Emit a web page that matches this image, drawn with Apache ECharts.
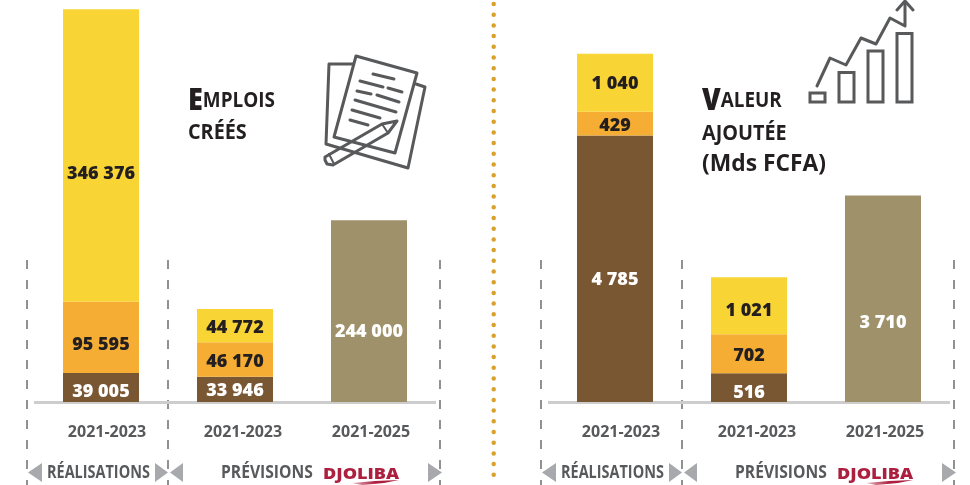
<!DOCTYPE html>
<html><head><meta charset="utf-8">
<style>html,body{margin:0;padding:0;background:#fff}#c{width:970px;height:485px}</style>
<script src="https://cdn.jsdelivr.net/npm/echarts@6/dist/echarts.min.js"></script>
</head><body><div id="c"></div>
<script>
const periods = ['2021-2023', '2021-2023', '2021-2025'];

// Emplois créés: printed values
const jobsBrown = [39005, 33946, null];
const jobsOrange = [95595, 46170, null];
const jobsYellow = [346376, 44772, null];
const jobsKhaki = [null, null, 244000];
// The reference draws the 346 376 segment taller than its value; height
const jobsYellowDrawn = [393000, 44772, null];

// Valeur ajoutée (Mds FCFA): printed values
const valueBrown = [4785, 516, null];
const valueOrange = [429, 702, null];
const valueYellow = [1040, 1021, null];
const valueKhaki = [null, null, 3710];

const C = {brown:'#7a5733', orange:'#f5ae33', yellow:'#f8d535', khaki:'#9f916a', dark:'#231f20', grey:'#58595b', tri:'#a7a9ac', red:'#ad1f3f'};
const FONT = '"Open Sans", sans-serif';
const fmt = v => String(v).replace(/\B(?=(\d{3})+$)/g, ' ');

function seg(name, color, drawn, printed, textColor, nudges, g){
  return {
    type:'bar', name, stack:'s'+g, xAxisIndex:g, yAxisIndex:g, barWidth:76,
    itemStyle:{color}, z:3,
    data: drawn.map((v,i)=>({value:v, label:{offset:[0,2+((nudges&&nudges[i])||0)]}})),
    label:{show:true, position:'inside', color:textColor, fontFamily:FONT, fontWeight:800, fontSize:18,
      formatter:p=>printed[p.dataIndex]==null?'':fmt(printed[p.dataIndex])}
  };
}

function line(pts, w, color){
  return {type:'polyline', shape:{points:pts}, style:{fill:null, stroke:color||C.grey, lineWidth:w||3, lineJoin:'round', lineCap:'round'}};
}

function panelDecor(dx){
  const out = [];
  [27,168,440].forEach(x=>out.push({type:'line', shape:{x1:x+dx,y1:260,x2:x+dx,y2:485},
    style:{stroke:'#6d6e71', lineWidth:1.5, lineDash:[9,11]}}));
  [[28,42,-1],[155,168,1],[170,183,-1],[428,442,1]].forEach(([a,b,d])=>{
    const tip = d<0?a:b, base = d<0?b:a;
    out.push({type:'polygon', shape:{points:[[tip+dx,472.5],[base+dx,463],[base+dx,482]]}, style:{fill:C.tri}});
  });
  const bottom = (t,x,w)=>({type:'text', x:x+dx, y:473.5, scaleX:w,
    style:{text:t, fill:C.grey, font:'700 17px '+FONT, textVerticalAlign:'middle', textAlign:'left'}});
  out.push(bottom('RÉALISATIONS',47,0.85), bottom('PRÉVISIONS',221,0.92));
  out.push({type:'text', x:323+dx, y:474, scaleX:1.13,
    style:{text:'DJOLIBA', fill:C.red, font:'800 16px '+FONT, textVerticalAlign:'middle', textAlign:'left'}});
  out.push({type:'polygon', shape:{points:[[352+dx,483],[375+dx,481],[399+dx,480],[384+dx,483],[362+dx,485]]},
    style:{fill:new echarts.graphic.LinearGradient(0,0,1,0,[{offset:0,color:'#e6b6c0'},{offset:0.5,color:C.red},{offset:1,color:C.red}])}});
  return out;
}

const titleRich = {
  big:{fontFamily:FONT, fontWeight:800, fontSize:30, fill:C.dark},
  mid:{fontFamily:FONT, fontWeight:700, fontSize:21, fill:C.dark},
  sub:{fontFamily:FONT, fontWeight:700, fontSize:22, fill:C.dark},
  par:{fontFamily:FONT, fontWeight:700, fontSize:24, fill:C.dark}
};
function title(t,x,y,sx){
  return {type:'text', x, y, scaleX:sx, style:{text:t, rich:titleRich, textVerticalAlign:'middle', textAlign:'left'}};
}

const docIcon = [
  line([[356,56],[417,73],[395,153],[334,137],[356,56]]),
  line([[353,64],[329,64],[326,144],[408,168],[425,87],[416,84]]),
  line([[373,74],[394,79]]), line([[360,81],[383,87]]), line([[388,88],[402,92]]),
  line([[357,91],[371,94]]), line([[377,95],[399,102]]), line([[355,100],[396,112]]),
  line([[352,110],[380,118]]), line([[350,120],[368,125]]),
  line([[325,157],[382,124],[397,121],[388,133],[333,165],[327,164],[325,160],[325,157]]),
  line([[382,124],[388,133]],2), line([[329,154],[334,164]],2)
];
const growthIcon = [
  {type:'rect', shape:{x:810,y:93,width:15,height:9}, style:{fill:null,stroke:C.grey,lineWidth:3}},
  {type:'rect', shape:{x:839,y:72.5,width:15,height:29.5}, style:{fill:null,stroke:C.grey,lineWidth:3}},
  {type:'rect', shape:{x:868,y:51,width:15,height:51}, style:{fill:null,stroke:C.grey,lineWidth:3}},
  {type:'rect', shape:{x:897,y:33.5,width:15,height:68.5}, style:{fill:null,stroke:C.grey,lineWidth:3}},
  line([[817,86],[830,58],[846,65],[861,38],[876,44],[890,18],[905,26],[905,2]]),
  line([[897,10],[905,1],[913,10]])
];

const divider = {type:'line', shape:{x1:493.7,y1:4,x2:493.7,y2:485},
  style:{stroke:'#d9a12c', lineWidth:4.5, lineCap:'round', lineDash:[0,10.7]}};

const tickStyle = pad => ({fontFamily:FONT, fontWeight:700, fontSize:16, color:C.grey, padding:[0,0,0,pad]});
const axisX = g=>({
  type:'category', gridIndex:g, data:periods,
  axisLine:{lineStyle:{color:'#cdcdcd',width:3,cap:'butt'}}, axisTick:{show:false},
  axisLabel:{margin:22, interval:0,
    formatter:(v,i)=>`{${'abc'[i]}|${v}}`,
    rich:{a:tickStyle(12), b:tickStyle(16), c:tickStyle(4)}}
});
const axisY = (g,max)=>({type:'value', gridIndex:g, min:0, max, show:false});

const chart = echarts.init(document.getElementById('c'), null, {renderer:'canvas'});
chart.setOption({
  animation:false, backgroundColor:'#fff',
  grid:[{left:34,width:402,top:0,height:402},{left:548,width:402,top:0,height:402}],
  xAxis:[axisX(0),axisX(1)],
  yAxis:[axisY(0,540000),axisY(1,7220)],
  series:[
    seg('Emplois brun',C.brown,jobsBrown,jobsBrown,'#fff',[2,0,0],0),
    seg('Emplois orange',C.orange,jobsOrange,jobsOrange,C.dark,[5,0,0],0),
    seg('Emplois jaune',C.yellow,jobsYellowDrawn,jobsYellow,C.dark,[16,0,0],0),
    seg('Emplois prévus',C.khaki,jobsKhaki,jobsKhaki,'#fff',[0,0,19],0),
    seg('VA brun',C.brown,valueBrown,valueBrown,'#fff',[9,3,0],1),
    seg('VA orange',C.orange,valueOrange,valueOrange,C.dark,[0,0,0],1),
    seg('VA jaune',C.yellow,valueYellow,valueYellow,C.dark,[-1,3,0],1),
    seg('VA prévue',C.khaki,valueKhaki,valueKhaki,'#fff',[0,0,22],1)
  ],
  graphic:{elements:[].concat(
    panelDecor(0), panelDecor(514), [divider], docIcon, growthIcon,
    [
      title('{big|E}{mid|MPLOIS}',188,101,0.9),
      title('{sub|CRÉÉS}',188,133,0.9),
      title('{big|V}{mid|ALEUR}',702,101,0.9),
      title('{sub|AJOUTÉE}',702,134,0.9),
      title('{par|(Mds FCFA)}',702,164,0.95)
    ]
  )}
});
</script></body></html>
